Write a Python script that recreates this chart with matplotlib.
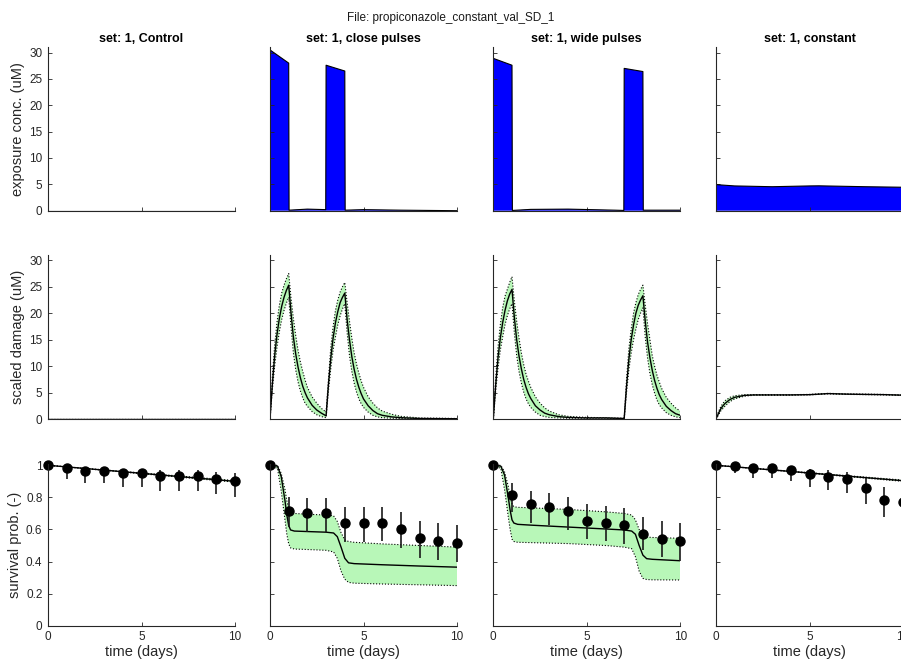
import numpy as np
import matplotlib
matplotlib.use("Agg")
import matplotlib.pyplot as plt

plt.rcParams['font.family'] = ['Liberation Sans', 'DejaVu Sans']

titles = ["set: 1, Control", "set: 1, close pulses", "set: 1, wide pulses", "set: 1, constant"]

# exposure concentrations (uM)
ctrl_exp_t = [0, 10]
ctrl_exp_c = [0, 0]
close_exp_t = [0, 1, 1.02, 2, 2.98, 3, 4, 4.02, 5, 7, 10]
close_exp_c = [30.5, 28.0, 0.1, 0.3, 0.2, 27.6, 26.5, 0.1, 0.2, 0.1, 0.0]
wide_exp_t = [0, 1, 1.02, 2, 4, 6.5, 6.98, 7, 8, 8.02, 10]
wide_exp_c = [28.9, 27.6, 0.05, 0.25, 0.3, 0.1, 0.05, 27.0, 26.4, 0.1, 0.1]
const_exp_t = [0, 1, 3, 5, 5.5, 8, 10]
const_exp_c = [4.95, 4.7, 4.55, 4.7, 4.72, 4.55, 4.45]

# scaled damage (uM): model line and CI band
ctrl_dam_t = [0, 10]
ctrl_dam = [0, 0]
ctrl_dam_hi = [0, 0]
ctrl_dam_lo = [0, 0]

close_dam_t = [0, 0.125, 0.25, 0.375, 0.5, 0.625, 0.75, 0.875, 1,
               1.125, 1.25, 1.375, 1.5, 1.625, 1.75, 1.875, 2,
               2.25, 2.5, 2.75, 3,
               3.125, 3.25, 3.375, 3.5, 3.625, 3.75, 3.875, 4,
               4.125, 4.25, 4.375, 4.5, 4.625, 4.75, 4.875, 5,
               5.25, 5.5, 5.75, 6,
               6.5, 7, 8, 10]
close_dam = [0, 6.5, 12, 16, 19, 21.3, 23, 24.3, 25.3,
             20, 15.5, 12.3, 9.8, 7.8, 6.2, 5.0, 4.0,
             2.6, 1.7, 1.1, 0.6,
             6.5, 11.5, 15.3, 18.2, 20.3, 22, 23, 23.8,
             18.8, 15, 11.8, 9.4, 7.5, 6, 4.8, 3.8,
             2.5, 1.6, 1.0, 0.7,
             0.4, 0.25, 0.1, 0.05]
close_dam_hi = [0, 8, 14, 18.3, 21.5, 23.8, 25.3, 26.5, 27.5,
                22.8, 19, 15.8, 13, 10.8, 9, 7.4, 6,
                4.2, 3, 2, 1.3,
                7.5, 13.5, 17.5, 20.5, 22.5, 24, 25, 25.8,
                22, 18.5, 15.3, 12.5, 10.4, 8.7, 7.2, 6,
                4.2, 3, 2.1, 1.5,
                0.9, 0.5, 0.2, 0.1]
close_dam_lo = [0, 5.5, 10, 13.6, 16.5, 18.8, 20.5, 21.9, 23,
                17.3, 12.5, 9.3, 7, 5.3, 4, 3, 2.4,
                1.4, 0.8, 0.45, 0.25,
                5.3, 9.5, 13, 15.5, 17.8, 19.5, 20.8, 21.8,
                16.3, 12, 9, 6.8, 5.1, 3.8, 2.9, 2.2,
                1.3, 0.7, 0.4, 0.25,
                0.15, 0.1, 0.05, 0.02]

wide_dam_t = [0, 0.125, 0.25, 0.375, 0.5, 0.625, 0.75, 0.875, 1,
              1.125, 1.25, 1.375, 1.5, 1.625, 1.75, 1.875, 2,
              2.25, 2.5, 2.75, 3,
              3.5, 4, 5, 6, 7,
              7.125, 7.25, 7.375, 7.5, 7.625, 7.75, 7.875, 8,
              8.125, 8.25, 8.375, 8.5, 8.625, 8.75, 8.875, 9,
              9.25, 9.5, 9.75, 10]
wide_dam = [0, 6.3, 11.5, 15.3, 18.2, 20.5, 22.3, 23.6, 24.5,
            19.2, 15, 11.9, 9.5, 7.5, 6, 4.8, 3.9,
            2.5, 1.7, 1.1, 0.8,
            0.45, 0.3, 0.2, 0.2, 0.1,
            6.2, 11.3, 15, 17.8, 20, 21.5, 22.5, 23.3,
            18.5, 14.5, 11.6, 9.2, 7.3, 5.8, 4.6, 3.7,
            2.4, 1.6, 1.0, 0.7]
wide_dam_hi = [0, 7.7, 13.5, 17.8, 21, 23.2, 24.5, 25.8, 26.9,
               22.3, 18.5, 15.3, 12.5, 10.3, 8.5, 7.2, 6,
               4.2, 3, 2.1, 1.5,
               0.8, 0.5, 0.3, 0.25, 0.15,
               7.5, 13.3, 17, 20, 22, 23.5, 24.5, 25.3,
               21.5, 18, 15, 12, 10, 8.3, 7, 5.8,
               4.1, 3, 2.1, 1.5]
wide_dam_lo = [0, 5.2, 9.5, 13, 15.5, 17.8, 19.5, 20.8, 21.8,
               16.3, 12, 9, 6.8, 5.1, 3.8, 2.9, 2.2,
               1.3, 0.7, 0.45, 0.3,
               0.2, 0.15, 0.15, 0.15, 0.05,
               5, 9.3, 12.5, 15, 17, 18.8, 20, 21,
               15.5, 11.5, 8.6, 6.5, 4.9, 3.6, 2.7, 2.1,
               1.2, 0.7, 0.4, 0.25]

const_dam_t = [0, 0.125, 0.25, 0.375, 0.5, 0.75, 1, 1.5, 2, 3, 4, 5, 6, 7, 8, 9, 10]
const_dam = [0, 1.0, 1.9, 2.5, 3.0, 3.7, 4.1, 4.45, 4.55, 4.55, 4.55, 4.6, 4.8, 4.7, 4.65, 4.6, 4.5]
const_dam_hi = [0, 1.3, 2.3, 3.0, 3.5, 4.1, 4.4, 4.6, 4.62, 4.6, 4.6, 4.65, 4.85, 4.75, 4.7, 4.65, 4.55]
const_dam_lo = [0, 0.7, 1.5, 2.0, 2.5, 3.3, 3.8, 4.3, 4.48, 4.5, 4.5, 4.55, 4.75, 4.65, 4.6, 4.55, 4.45]

# survival: observed points with CI bars
obs_t = list(range(11))
ctrl_obs = [1.0, 0.985, 0.966, 0.966, 0.95, 0.95, 0.935, 0.935, 0.935, 0.917, 0.9]
ctrl_obs_hi = [1.0, 1.0, 0.99, 0.99, 0.975, 0.977, 0.97, 0.97, 0.97, 0.96, 0.95]
ctrl_obs_lo = [1.0, 0.913, 0.888, 0.888, 0.863, 0.863, 0.84, 0.84, 0.84, 0.819, 0.80]
close_obs = [1.0, 0.715, 0.70, 0.70, 0.642, 0.642, 0.642, 0.60, 0.545, 0.528, 0.513]
close_obs_hi = [1.0, 0.80, 0.794, 0.794, 0.742, 0.742, 0.742, 0.707, 0.653, 0.638, 0.628]
close_obs_lo = [1.0, 0.617, 0.586, 0.586, 0.524, 0.522, 0.53, 0.482, 0.424, 0.41, 0.40]
wide_obs = [1.0, 0.815, 0.757, 0.742, 0.715, 0.655, 0.642, 0.628, 0.57, 0.54, 0.528]
wide_obs_hi = [1.0, 0.888, 0.84, 0.83, 0.805, 0.757, 0.746, 0.736, 0.676, 0.653, 0.638]
wide_obs_lo = [1.0, 0.71, 0.642, 0.628, 0.597, 0.539, 0.525, 0.51, 0.472, 0.426, 0.405]
const_obs = [1.0, 0.996, 0.985, 0.985, 0.971, 0.944, 0.927, 0.913, 0.857, 0.784, 0.77]
const_obs_hi = [1.0, 1.0, 1.0, 1.0, 0.996, 0.977, 0.971, 0.96, 0.919, 0.862, 0.85]
const_obs_lo = [1.0, 0.95, 0.923, 0.923, 0.90, 0.862, 0.846, 0.825, 0.757, 0.676, 0.66]

# survival: model line and CI band
ctrl_surv_t = [0, 10]
ctrl_surv = [1.0, 0.9]
ctrl_surv_hi = [1.0, 0.905]
ctrl_surv_lo = [1.0, 0.895]

close_surv_t = [0, 0.4, 0.6, 0.8, 0.9, 1.0, 1.1, 1.3, 2, 3, 3.4, 3.6, 3.8, 4.0, 4.2, 4.5, 6, 8, 10]
close_surv = [1, 0.995, 0.93, 0.78, 0.69, 0.625, 0.597, 0.59, 0.587, 0.583, 0.578, 0.555,
              0.49, 0.42, 0.392, 0.387, 0.38, 0.372, 0.365]
close_surv_hi = [1, 1, 0.95, 0.85, 0.78, 0.73, 0.705, 0.70, 0.695, 0.69, 0.685, 0.65,
                 0.58, 0.535, 0.525, 0.52, 0.51, 0.5, 0.49]
close_surv_lo = [1, 0.98, 0.84, 0.66, 0.57, 0.51, 0.485, 0.478, 0.475, 0.47, 0.46, 0.42,
                 0.34, 0.29, 0.27, 0.265, 0.26, 0.255, 0.25]

wide_surv_t = [0, 0.4, 0.6, 0.8, 0.9, 1.0, 1.1, 1.3, 2, 4, 6, 7, 7.4, 7.6, 7.8, 8.0, 8.2, 8.5, 10]
wide_surv = [1, 0.995, 0.94, 0.8, 0.72, 0.66, 0.64, 0.632, 0.627, 0.615, 0.603, 0.597,
             0.59, 0.57, 0.5, 0.44, 0.418, 0.414, 0.405]
wide_surv_hi = [1, 1, 0.96, 0.87, 0.8, 0.76, 0.742, 0.738, 0.735, 0.725, 0.71, 0.7,
                0.69, 0.66, 0.6, 0.56, 0.553, 0.55, 0.545]
wide_surv_lo = [1, 0.98, 0.85, 0.68, 0.6, 0.54, 0.525, 0.52, 0.518, 0.512, 0.5, 0.49,
                0.48, 0.43, 0.34, 0.295, 0.288, 0.286, 0.285]

const_surv_t = [0, 10]
const_surv = [1.0, 0.904]
const_surv_hi = [1.0, 0.908]
const_surv_lo = [1.0, 0.9]

exposure = [(ctrl_exp_t, ctrl_exp_c), (close_exp_t, close_exp_c),
            (wide_exp_t, wide_exp_c), (const_exp_t, const_exp_c)]
damage = [(ctrl_dam_t, ctrl_dam, ctrl_dam_lo, ctrl_dam_hi),
          (close_dam_t, close_dam, close_dam_lo, close_dam_hi),
          (wide_dam_t, wide_dam, wide_dam_lo, wide_dam_hi),
          (const_dam_t, const_dam, const_dam_lo, const_dam_hi)]
survival = [(ctrl_surv_t, ctrl_surv, ctrl_surv_lo, ctrl_surv_hi),
            (close_surv_t, close_surv, close_surv_lo, close_surv_hi),
            (wide_surv_t, wide_surv, wide_surv_lo, wide_surv_hi),
            (const_surv_t, const_surv, const_surv_lo, const_surv_hi)]
observed = [(ctrl_obs, ctrl_obs_lo, ctrl_obs_hi), (close_obs, close_obs_lo, close_obs_hi),
            (wide_obs, wide_obs_lo, wide_obs_hi), (const_obs, const_obs_lo, const_obs_hi)]

W, H = 901, 660
fig = plt.figure(figsize=(W / 100, H / 100), dpi=100)

lefts = [48, 270, 493.3, 716]
width = 187
rows = [(210.7, 163.4), (419.0, 164.0), (625.7, 162.0)]  # (bottom px, height px)
grey = '#262626'
band = '#b8f7b8'


def make_ax(col, row):
    b, h = rows[row]
    ax = fig.add_axes([lefts[col] / W, 1 - b / H, width / W, h / H])
    for s in ['top', 'right']:
        ax.spines[s].set_visible(False)
    for s in ['left', 'bottom']:
        ax.spines[s].set_color(grey)
        ax.spines[s].set_linewidth(0.8)
    ax.tick_params(direction='in', length=3, width=0.6, colors=grey, labelsize=8.5, pad=4)
    ax.set_xlim(0, 10)
    ax.set_xticks([0, 5, 10])
    if row < 2:
        ax.set_xticklabels([])
    return ax


for col in range(4):
    # exposure
    ax = make_ax(col, 0)
    t, c = exposure[col]
    ax.fill_between(t, 0, c, facecolor='#0000ff', edgecolor='none')
    ax.plot(t, c, color='k', lw=0.8)
    ax.set_ylim(0, 31)
    ax.set_yticks([0, 5, 10, 15, 20, 25, 30])
    if col > 0:
        ax.set_yticklabels([])
    else:
        ax.set_ylabel('exposure conc. (uM)', fontsize=10.5, color=grey, labelpad=3)
    ax.set_title(titles[col], fontsize=9, fontweight='bold', pad=4)

    # damage
    ax = make_ax(col, 1)
    t, m, lo, hi = damage[col]
    ax.fill_between(t, lo, hi, facecolor=band, edgecolor='none')
    ax.plot(t, lo, ':', color='k', lw=0.8)
    ax.plot(t, hi, ':', color='k', lw=0.8)
    ax.plot(t, m, color='k', lw=1.0)
    ax.set_ylim(0, 31)
    ax.set_yticks([0, 5, 10, 15, 20, 25, 30])
    if col > 0:
        ax.set_yticklabels([])
    else:
        ax.set_ylabel('scaled damage (uM)', fontsize=10.5, color=grey, labelpad=3)

    # survival
    ax = make_ax(col, 2)
    t, m, lo, hi = survival[col]
    ax.fill_between(t, lo, hi, facecolor=band, edgecolor='none')
    ax.plot(t, lo, ':', color='k', lw=0.8)
    ax.plot(t, hi, ':', color='k', lw=0.8)
    ax.plot(t, m, color='k', lw=1.0)
    s, slo, shi = observed[col]
    ax.vlines(obs_t, slo, shi, colors='#1a1a1a', lw=1.2, clip_on=False)
    ax.plot(obs_t, s, 'o', color='k', ms=6.5, clip_on=False)
    ax.set_ylim(0, 1.01)
    ax.set_yticks([0, 0.2, 0.4, 0.6, 0.8, 1])
    if col > 0:
        ax.set_yticklabels([])
    else:
        ax.set_yticklabels(['0', '0.2', '0.4', '0.6', '0.8', '1'])
        ax.set_ylabel('survival prob. (-)', fontsize=10.5, color=grey, labelpad=3)
    ax.set_xlabel('time (days)', fontsize=10.5, color=grey, labelpad=1)

fig.text(0.5, 1 - 18 / H, 'File: propiconazole_constant_val_SD_1', ha='center', va='center',
         fontsize=8.5, color='#1a1a1a')

fig.savefig('out.png', dpi=100)
